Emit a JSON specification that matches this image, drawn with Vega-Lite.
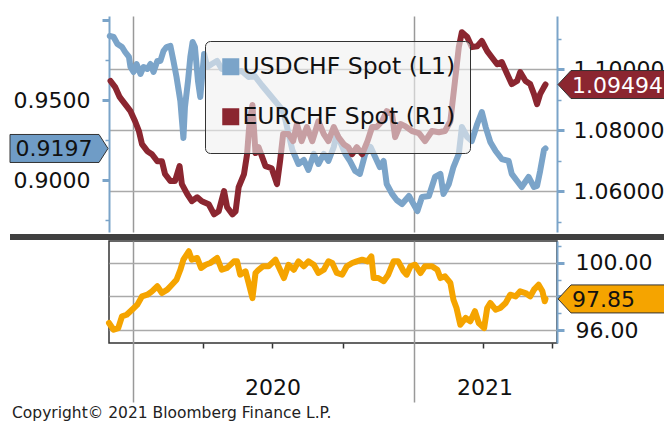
{
"$schema": "https://vega.github.io/schema/vega-lite/v6.json",
"padding": {"left": 8, "top": 16, "right": 0, "bottom": 0},
"background": "white",
"config": {"view": {"stroke": null}, "font": "DejaVu Sans", "axis": {"labelFont": "DejaVu Sans", "zindex": 0}},
"title": {"text": "Copyright© 2021 Bloomberg Finance L.P.", "orient": "bottom", "anchor": "start", "frame": "bounds", "offset": 2, "dx": 4, "font": "DejaVu Sans", "fontSize": 15.5, "fontWeight": "normal", "color": "#222"},
"spacing": 0,
"datasets": {
"usd": [
{"date":"2019-12-02","v":0.9900},{"date":"2019-12-07","v":0.9894},{"date":"2019-12-12","v":0.9850},{"date":"2019-12-18","v":0.9831},{"date":"2019-12-22","v":0.9800},{"date":"2019-12-27","v":0.9769},{"date":"2019-12-29","v":0.9706},{"date":"2020-01-02","v":0.9675},{"date":"2020-01-06","v":0.9725},{"date":"2020-01-11","v":0.9663},{"date":"2020-01-15","v":0.9706},{"date":"2020-01-20","v":0.9694},{"date":"2020-01-24","v":0.9725},{"date":"2020-01-28","v":0.9675},{"date":"2020-02-02","v":0.9744},{"date":"2020-02-06","v":0.9744},{"date":"2020-02-10","v":0.9806},{"date":"2020-02-14","v":0.9831},{"date":"2020-02-19","v":0.9838},{"date":"2020-02-23","v":0.9744},{"date":"2020-02-27","v":0.9644},{"date":"2020-03-03","v":0.9494},{"date":"2020-03-07","v":0.9263},{"date":"2020-03-09","v":0.9456},{"date":"2020-03-13","v":0.9619},{"date":"2020-03-16","v":0.9769},{"date":"2020-03-19","v":0.9863},{"date":"2020-03-22","v":0.9831},{"date":"2020-03-26","v":0.9619},{"date":"2020-03-29","v":0.9519},{"date":"2020-04-03","v":0.9788},{"date":"2020-04-07","v":0.9706},{"date":"2020-04-13","v":0.9725},{"date":"2020-04-20","v":0.9744},{"date":"2020-04-26","v":0.9694},{"date":"2020-05-05","v":0.9681},{"date":"2020-05-14","v":0.9675},{"date":"2020-05-22","v":0.9681},{"date":"2020-05-31","v":0.9644},{"date":"2020-06-08","v":0.9650},{"date":"2020-06-17","v":0.9594},{"date":"2020-06-30","v":0.9519},{"date":"2020-07-14","v":0.9438},{"date":"2020-07-18","v":0.9375},{"date":"2020-07-23","v":0.9269},{"date":"2020-07-27","v":0.9188},{"date":"2020-08-04","v":0.9100},{"date":"2020-08-11","v":0.9125},{"date":"2020-08-17","v":0.9063},{"date":"2020-08-24","v":0.9163},{"date":"2020-08-30","v":0.9100},{"date":"2020-09-06","v":0.9163},{"date":"2020-09-12","v":0.9119},{"date":"2020-09-19","v":0.9206},{"date":"2020-09-23","v":0.9288},{"date":"2020-09-27","v":0.9244},{"date":"2020-10-04","v":0.9163},{"date":"2020-10-10","v":0.9119},{"date":"2020-10-17","v":0.9056},{"date":"2020-10-23","v":0.9038},{"date":"2020-10-30","v":0.9163},{"date":"2020-11-06","v":0.9206},{"date":"2020-11-12","v":0.9144},{"date":"2020-11-18","v":0.9081},{"date":"2020-11-23","v":0.9119},{"date":"2020-11-27","v":0.8975},{"date":"2020-12-04","v":0.8913},{"date":"2020-12-10","v":0.8875},{"date":"2020-12-17","v":0.8850},{"date":"2020-12-26","v":0.8900},{"date":"2021-01-06","v":0.8806},{"date":"2021-01-12","v":0.8894},{"date":"2021-01-21","v":0.8900},{"date":"2021-01-29","v":0.9019},{"date":"2021-02-05","v":0.9038},{"date":"2021-02-09","v":0.8913},{"date":"2021-02-16","v":0.8975},{"date":"2021-02-22","v":0.9081},{"date":"2021-03-01","v":0.9163},{"date":"2021-03-05","v":0.9331},{"date":"2021-03-12","v":0.9269},{"date":"2021-03-18","v":0.9244},{"date":"2021-03-25","v":0.9350},{"date":"2021-03-31","v":0.9425},{"date":"2021-04-05","v":0.9331},{"date":"2021-04-11","v":0.9238},{"date":"2021-04-18","v":0.9181},{"date":"2021-04-26","v":0.9131},{"date":"2021-05-05","v":0.9119},{"date":"2021-05-09","v":0.9038},{"date":"2021-05-16","v":0.8994},{"date":"2021-05-22","v":0.8956},{"date":"2021-05-31","v":0.9019},{"date":"2021-06-07","v":0.8956},{"date":"2021-06-11","v":0.8963},{"date":"2021-06-15","v":0.9056},{"date":"2021-06-20","v":0.9188},{"date":"2021-06-22","v":0.9197}
],
"eur": [
{"date":"2019-12-03","v":1.0961},{"date":"2019-12-09","v":1.0941},{"date":"2019-12-15","v":1.0908},{"date":"2019-12-22","v":1.0885},{"date":"2019-12-29","v":1.0862},{"date":"2020-01-04","v":1.0829},{"date":"2020-01-09","v":1.0797},{"date":"2020-01-13","v":1.0754},{"date":"2020-01-20","v":1.0731},{"date":"2020-01-26","v":1.0721},{"date":"2020-02-02","v":1.0698},{"date":"2020-02-08","v":1.0698},{"date":"2020-02-12","v":1.0656},{"date":"2020-02-19","v":1.0633},{"date":"2020-02-25","v":1.0633},{"date":"2020-03-02","v":1.0682},{"date":"2020-03-05","v":1.0623},{"date":"2020-03-12","v":1.0590},{"date":"2020-03-18","v":1.0567},{"date":"2020-03-25","v":1.0580},{"date":"2020-03-31","v":1.0567},{"date":"2020-04-09","v":1.0557},{"date":"2020-04-16","v":1.0524},{"date":"2020-04-22","v":1.0534},{"date":"2020-04-29","v":1.0600},{"date":"2020-05-03","v":1.0547},{"date":"2020-05-10","v":1.0524},{"date":"2020-05-14","v":1.0534},{"date":"2020-05-18","v":1.0613},{"date":"2020-05-25","v":1.0656},{"date":"2020-05-29","v":1.0721},{"date":"2020-06-01","v":1.0820},{"date":"2020-06-05","v":1.0882},{"date":"2020-06-09","v":1.0725},{"date":"2020-06-13","v":1.0744},{"date":"2020-06-22","v":1.0682},{"date":"2020-06-30","v":1.0675},{"date":"2020-07-07","v":1.0623},{"date":"2020-07-11","v":1.0698},{"date":"2020-07-15","v":1.0787},{"date":"2020-07-22","v":1.0787},{"date":"2020-07-28","v":1.0764},{"date":"2020-08-02","v":1.0820},{"date":"2020-08-08","v":1.0764},{"date":"2020-08-15","v":1.0810},{"date":"2020-08-22","v":1.0764},{"date":"2020-08-30","v":1.0829},{"date":"2020-09-06","v":1.0787},{"date":"2020-09-12","v":1.0764},{"date":"2020-09-19","v":1.0810},{"date":"2020-09-25","v":1.0777},{"date":"2020-10-02","v":1.0754},{"date":"2020-10-08","v":1.0744},{"date":"2020-10-13","v":1.0721},{"date":"2020-10-19","v":1.0744},{"date":"2020-10-26","v":1.0721},{"date":"2020-11-02","v":1.0764},{"date":"2020-11-08","v":1.0810},{"date":"2020-11-14","v":1.0810},{"date":"2020-11-21","v":1.0829},{"date":"2020-11-27","v":1.0862},{"date":"2020-12-04","v":1.0852},{"date":"2020-12-08","v":1.0777},{"date":"2020-12-15","v":1.0820},{"date":"2020-12-21","v":1.0813},{"date":"2020-12-30","v":1.0797},{"date":"2021-01-08","v":1.0790},{"date":"2021-01-16","v":1.0764},{"date":"2021-01-25","v":1.0797},{"date":"2021-02-03","v":1.0793},{"date":"2021-02-11","v":1.0797},{"date":"2021-02-18","v":1.0829},{"date":"2021-02-24","v":1.0961},{"date":"2021-03-01","v":1.1072},{"date":"2021-03-05","v":1.1121},{"date":"2021-03-12","v":1.1105},{"date":"2021-03-18","v":1.1072},{"date":"2021-03-25","v":1.1075},{"date":"2021-03-31","v":1.1092},{"date":"2021-04-07","v":1.1059},{"date":"2021-04-13","v":1.1039},{"date":"2021-04-20","v":1.1016},{"date":"2021-04-26","v":1.1023},{"date":"2021-05-03","v":1.0984},{"date":"2021-05-09","v":1.0951},{"date":"2021-05-16","v":1.0961},{"date":"2021-05-20","v":1.0990},{"date":"2021-05-27","v":1.0961},{"date":"2021-06-02","v":1.0951},{"date":"2021-06-07","v":1.0918},{"date":"2021-06-11","v":1.0885},{"date":"2021-06-15","v":1.0918},{"date":"2021-06-20","v":1.0941},{"date":"2021-06-22","v":1.09494}
],
"idx": [
{"date":"2019-12-01","v":96.42},{"date":"2019-12-07","v":96.02},{"date":"2019-12-13","v":96.12},{"date":"2019-12-18","v":96.82},{"date":"2019-12-24","v":96.91},{"date":"2019-12-31","v":97.21},{"date":"2020-01-07","v":97.51},{"date":"2020-01-13","v":98.00},{"date":"2020-01-20","v":98.10},{"date":"2020-01-26","v":98.30},{"date":"2020-02-02","v":98.60},{"date":"2020-02-08","v":98.20},{"date":"2020-02-15","v":98.40},{"date":"2020-02-21","v":98.69},{"date":"2020-02-27","v":98.99},{"date":"2020-03-03","v":99.58},{"date":"2020-03-07","v":100.18},{"date":"2020-03-14","v":100.68},{"date":"2020-03-18","v":100.18},{"date":"2020-03-25","v":100.28},{"date":"2020-03-30","v":99.69},{"date":"2020-04-05","v":99.88},{"date":"2020-04-11","v":99.98},{"date":"2020-04-20","v":100.28},{"date":"2020-04-26","v":99.58},{"date":"2020-05-03","v":99.69},{"date":"2020-05-12","v":100.08},{"date":"2020-05-16","v":100.08},{"date":"2020-05-20","v":99.29},{"date":"2020-05-27","v":99.49},{"date":"2020-05-31","v":98.80},{"date":"2020-06-05","v":97.90},{"date":"2020-06-09","v":99.39},{"date":"2020-06-13","v":99.58},{"date":"2020-06-19","v":99.79},{"date":"2020-06-26","v":99.79},{"date":"2020-07-05","v":100.18},{"date":"2020-07-11","v":99.58},{"date":"2020-07-16","v":99.09},{"date":"2020-07-22","v":99.88},{"date":"2020-07-29","v":99.58},{"date":"2020-08-04","v":100.08},{"date":"2020-08-11","v":99.79},{"date":"2020-08-17","v":100.08},{"date":"2020-08-24","v":99.88},{"date":"2020-08-30","v":99.39},{"date":"2020-09-06","v":99.58},{"date":"2020-09-12","v":100.08},{"date":"2020-09-17","v":99.98},{"date":"2020-09-23","v":99.39},{"date":"2020-09-30","v":99.29},{"date":"2020-10-06","v":99.79},{"date":"2020-10-13","v":99.98},{"date":"2020-10-19","v":100.08},{"date":"2020-10-26","v":100.18},{"date":"2020-11-02","v":100.08},{"date":"2020-11-07","v":100.38},{"date":"2020-11-10","v":99.09},{"date":"2020-11-16","v":99.09},{"date":"2020-11-23","v":98.90},{"date":"2020-11-29","v":99.29},{"date":"2020-12-06","v":100.08},{"date":"2020-12-12","v":100.08},{"date":"2020-12-19","v":99.49},{"date":"2020-12-23","v":99.29},{"date":"2020-12-28","v":99.79},{"date":"2021-01-03","v":99.88},{"date":"2021-01-10","v":99.39},{"date":"2021-01-16","v":99.79},{"date":"2021-01-25","v":99.79},{"date":"2021-02-01","v":99.58},{"date":"2021-02-05","v":99.09},{"date":"2021-02-11","v":99.19},{"date":"2021-02-18","v":98.80},{"date":"2021-02-22","v":97.80},{"date":"2021-02-26","v":97.31},{"date":"2021-03-03","v":96.32},{"date":"2021-03-10","v":96.72},{"date":"2021-03-16","v":96.52},{"date":"2021-03-22","v":97.12},{"date":"2021-03-27","v":96.42},{"date":"2021-04-03","v":96.12},{"date":"2021-04-07","v":97.31},{"date":"2021-04-11","v":97.61},{"date":"2021-04-18","v":97.21},{"date":"2021-04-24","v":97.31},{"date":"2021-05-01","v":97.61},{"date":"2021-05-07","v":98.10},{"date":"2021-05-14","v":98.00},{"date":"2021-05-20","v":98.30},{"date":"2021-05-27","v":98.20},{"date":"2021-06-02","v":98.00},{"date":"2021-06-07","v":98.40},{"date":"2021-06-13","v":98.69},{"date":"2021-06-18","v":98.30},{"date":"2021-06-21","v":97.71},{"date":"2021-06-22","v":97.85}
]
},
"vconcat": [
{
"width": 448, "height": 216,
"resolve": {"scale": {"y": "independent"}},
"encoding": {
"x": {"field": "date", "type": "temporal", "scale": {"domain": [{"year":2019,"month":12,"date":1},{"year":2021,"month":7,"date":7}]},
"axis": {"values": [{"year":2020,"month":1,"date":1},{"year":2021,"month":1,"date":1}], "grid": true, "gridColor": "#999", "gridWidth": 1.5, "labels": false, "ticks": false, "domain": false, "title": null}}
},
"layer": [
{
"data": {"name": "usd"},
"encoding": {
"y": {"field": "v", "type": "quantitative", "scale": {"domain": [0.8675, 1.0025], "nice": false, "zero": false},
"axis": {"orient": "left", "title": null, "values": [0.875, 0.9, 0.925, 0.95, 0.975, 1.0], "format": ".4f", "grid": false,
"domainColor": "#7ba4c9", "domainWidth": 2, "tickColor": "#7ba4c9",
"tickSize": {"condition": {"test": "abs(datum.value*20 - round(datum.value*20)) < 0.001", "value": 7}, "value": 4},
"tickWidth": {"condition": {"test": "abs(datum.value*20 - round(datum.value*20)) < 0.001", "value": 3}, "value": 1.5},
"labelFontSize": {"condition": {"test": "abs(datum.value - 0.9) < 0.001 || abs(datum.value - 0.95) < 0.001", "value": 22}, "value": 0},
"labelColor": "#111", "labelPadding": 12, "labelOverlap": false, "labelFlush": false}}
},
"layer": [
{"mark": {"type": "line", "strokeWidth": 6, "strokeJoin": "round", "strokeCap": "round"},
"encoding": {"color": {"datum": "USDCHF Spot (L1)", "type": "nominal",
"scale": {"domain": ["USDCHF Spot (L1)", "EURCHF Spot (R1)"], "range": ["#7ba4c9", "#8b2630"]},
"legend": {"orient": "none", "legendX": 96, "legendY": 25, "title": null, "symbolType": "square", "symbolSize": 64, "symbolStrokeWidth": 9, "labelFont": "DejaVu Sans", "labelFontSize": 23.5, "labelLimit": 500, "labelColor": "#111", "fillColor": "rgba(240,240,240,0.6)", "strokeColor": "#333", "cornerRadius": 5, "padding": 14, "rowPadding": 5, "labelOffset": 0}}}},
{"transform": [{"joinaggregate": [{"op": "max", "field": "date", "as": "maxd"}]}, {"filter": "time(datum.date) == time(datum.maxd)"}],
"mark": {"type": "point", "shape": "M-99,2L557,2L557,8L-99,8Z", "size": 4, "filled": true, "fill": "#404040", "strokeWidth": 0, "opacity": 1, "clip": false},
"encoding": {"x": {"datum": {"year":2019,"month":12,"date":1}}, "y": {"datum": 0.8675}}},
{"transform": [{"joinaggregate": [{"op": "max", "field": "date", "as": "maxd"}]}, {"filter": "time(datum.date) == time(datum.maxd)"}],
"mark": {"type": "point", "shape": "M-1,0L-10,-14L-99,-14L-99,14L-10,14Z", "size": 4, "filled": true, "fill": "#6f9cc6", "stroke": "#333", "strokeWidth": 1, "opacity": 1, "clip": false},
"encoding": {"x": {"datum": {"year":2019,"month":12,"date":1}}}},
{"transform": [{"joinaggregate": [{"op": "max", "field": "date", "as": "maxd"}]}, {"filter": "time(datum.date) == time(datum.maxd)"}],
"mark": {"type": "text", "align": "center", "baseline": "middle", "dx": -55, "dy": 1, "font": "DejaVu Sans", "fontSize": 22, "fill": "#111", "clip": false},
"encoding": {"x": {"datum": {"year":2019,"month":12,"date":1}}, "text": {"field": "v", "type": "quantitative", "format": ".4f"}}}
]
},
{
"data": {"name": "eur"},
"encoding": {
"y": {"field": "v", "type": "quantitative", "scale": {"domain": [1.0466, 1.1174], "nice": false, "zero": false},
"axis": {"orient": "right", "title": null, "values": [1.05, 1.06, 1.07, 1.08, 1.09, 1.10, 1.11], "format": ".5f",
"grid": true, "gridColor": "#aaa", "gridWidth": 1.5,
"gridOpacity": {"condition": {"test": "abs(datum.value*50 - round(datum.value*50)) < 0.01", "value": 1}, "value": 0},
"domainColor": "#7ba4c9", "domainWidth": 2, "tickColor": "#7ba4c9",
"tickSize": {"condition": {"test": "abs(datum.value*50 - round(datum.value*50)) < 0.01", "value": 7}, "value": 4},
"tickWidth": {"condition": {"test": "abs(datum.value*50 - round(datum.value*50)) < 0.01", "value": 3}, "value": 1.5},
"labelFontSize": {"condition": {"test": "abs(datum.value*50 - round(datum.value*50)) < 0.01", "value": 22}, "value": 0},
"labelColor": "#111", "labelPadding": 9, "labelOverlap": false, "labelFlush": false}}
},
"layer": [
{"mark": {"type": "line", "strokeWidth": 6, "strokeJoin": "round", "strokeCap": "round"},
"encoding": {"color": {"datum": "EURCHF Spot (R1)", "type": "nominal"}}},
{"transform": [{"joinaggregate": [{"op": "max", "field": "date", "as": "maxd"}]}, {"filter": "time(datum.date) == time(datum.maxd)"}],
"mark": {"type": "point", "shape": "M1,0L14,-14L108,-14L108,14L14,14Z", "size": 4, "filled": true, "fill": "#8b2630", "stroke": "#333", "strokeWidth": 1, "opacity": 1, "clip": false},
"encoding": {"x": {"datum": {"year":2021,"month":7,"date":7}}}},
{"transform": [{"joinaggregate": [{"op": "max", "field": "date", "as": "maxd"}]}, {"filter": "time(datum.date) == time(datum.maxd)"}],
"mark": {"type": "text", "align": "left", "baseline": "middle", "dx": 15, "dy": 1, "font": "DejaVu Sans", "fontSize": 22, "fill": "white", "clip": false},
"encoding": {"x": {"datum": {"year":2021,"month":7,"date":7}}, "text": {"field": "v", "type": "quantitative", "format": ".5f"}}}
]
}
]
},
{
"width": 448, "height": 102,
"view": {"stroke": "#333", "strokeWidth": 1.5},
"data": {"name": "idx"},
"encoding": {
"x": {"field": "date", "type": "temporal", "scale": {"domain": [{"year":2019,"month":12,"date":1},{"year":2021,"month":7,"date":7}]},
"axis": {"title": null, "domain": false,
"values": [{"year":2020,"month":1,"date":1},{"year":2020,"month":4,"date":1},{"year":2020,"month":7,"date":1},{"year":2020,"month":10,"date":1},{"year":2021,"month":1,"date":1},{"year":2021,"month":4,"date":1},{"year":2021,"month":7,"date":1}],
"grid": true, "gridColor": "#999", "gridWidth": 1.5,
"gridOpacity": {"condition": {"test": "month(datum.value) == 0", "value": 1}, "value": 0},
"ticks": true, "tickWidth": 1.5,
"tickColor": {"condition": {"test": "month(datum.value) == 0", "value": "#999"}, "value": "#333"},
"tickSize": {"condition": {"test": "month(datum.value) == 0", "value": 59}, "value": 5},
"labelExpr": "(month(datum.value) == 6 && year(datum.value) == 2020) ? '2020' : ((month(datum.value) == 3 && year(datum.value) == 2021) ? '2021' : '')",
"labelFontSize": {"condition": {"test": "(month(datum.value) == 6 && year(datum.value) == 2020) || (month(datum.value) == 3 && year(datum.value) == 2021)", "value": 22}, "value": 0},
"labelOffset": {"condition": {"test": "year(datum.value) == 2021", "value": 2}, "value": 0},
"labelPadding": {"condition": {"test": "month(datum.value) == 0", "value": -54}, "value": 29},
"labelColor": "#111", "labelOverlap": false, "labelFlush": false}},
"y": {"field": "v", "type": "quantitative", "scale": {"domain": [95.234, 101.288], "nice": false, "zero": false},
"axis": {"orient": "right", "title": null, "values": [96, 97, 98, 99, 100, 101], "format": ".2f",
"grid": true, "gridColor": "#aaa", "gridWidth": 1.5,
"gridOpacity": {"condition": {"test": "datum.value % 2 == 0", "value": 1}, "value": 0},
"domainColor": "#7ba4c9", "domainWidth": 2, "tickColor": "#7ba4c9",
"tickSize": {"condition": {"test": "datum.value % 2 == 0", "value": 7}, "value": 4},
"tickWidth": {"condition": {"test": "datum.value % 2 == 0", "value": 3}, "value": 1.5},
"labelFontSize": {"condition": {"test": "datum.value == 96 || datum.value == 100", "value": 22}, "value": 0},
"labelColor": "#111", "labelPadding": 11, "labelOverlap": false, "labelFlush": false}}
},
"layer": [
{"mark": {"type": "line", "color": "#f5a400", "strokeWidth": 6, "strokeJoin": "round", "strokeCap": "round"}},
{"transform": [{"joinaggregate": [{"op": "max", "field": "date", "as": "maxd"}]}, {"filter": "time(datum.date) == time(datum.maxd)"}],
"mark": {"type": "point", "shape": "M1,0L14,-14L108,-14L108,14L14,14Z", "size": 4, "filled": true, "fill": "#f5a400", "stroke": "#333", "strokeWidth": 1, "opacity": 1, "clip": false},
"encoding": {"x": {"datum": {"year":2021,"month":7,"date":7}}}},
{"transform": [{"joinaggregate": [{"op": "max", "field": "date", "as": "maxd"}]}, {"filter": "time(datum.date) == time(datum.maxd)"}],
"mark": {"type": "text", "align": "left", "baseline": "middle", "dx": 15, "dy": 1, "font": "DejaVu Sans", "fontSize": 22, "fill": "#111", "clip": false},
"encoding": {"x": {"datum": {"year":2021,"month":7,"date":7}}, "text": {"field": "v", "type": "quantitative", "format": ".2f"}}}
]
}
]
}
